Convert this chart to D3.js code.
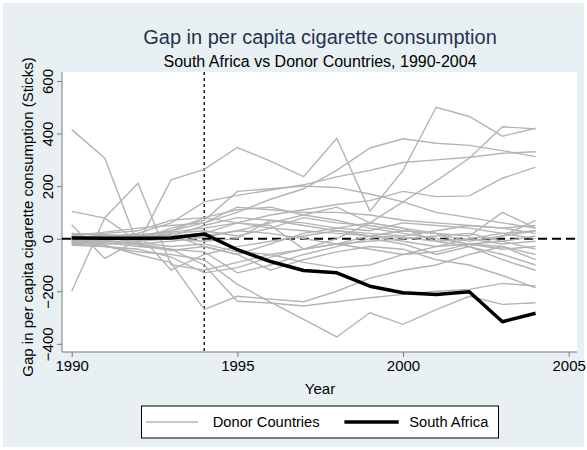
<!DOCTYPE html>
<html>
<head>
<meta charset="utf-8">
<script src="https://cdn.jsdelivr.net/npm/d3@7"></script>
<style>
  body { margin: 0; background: #fff; }
  svg { display: block; font-family: 'Liberation Sans', Arial, sans-serif; }
</style>
</head>
<body>
<div id="chart"></div>
<script>
// years and tick labels
var years = [1990, 1991, 1992, 1993, 1994, 1995, 1996, 1997, 1998, 1999, 2000, 2001, 2002, 2003, 2004];
var xTicks = [1990, 1995, 2000, 2005];
var yTicks = [-400, -200, 0, 200, 400, 600];
var treatYear = 1994;

// gap for the treated unit
var southAfrica = [3, 2, 2, 3, 18, -42, -87, -121, -130, -181, -206, -212, -202, -316, -284];

// placebo gaps, one list per donor country
var donor01 = [415, 306, -25, -45, -30, -60, -20, 20, 40, 60, 40, 20, -10, 10, 30];
var donor02 = [-200, 80, 211, -99, -120, -90, -60, -40, -20, 10, 30, 20, -30, -60, -100];
var donor03 = [104, 78, -10, 30, 80, 110, 120, 90, 70, 40, 20, 0, -20, -10, 10];
var donor04 = [53, -75, -5, 40, 70, 180, 190, 200, 195, 170, 140, 100, 80, 60, 40];
var donor05 = [-15, -25, -61, -91, -269, -219, -230, -240, -200, -150, -120, -100, -60, -30, -80];
var donor06 = [20, 10, -20, 224, 264, 347, 295, 236, 382, 105, 260, 500, 465, 390, 420];
var donor07 = [0, 10, 15, 25, 40, 60, 50, -40, 0, 60, 140, 220, 306, 426, 418];
var donor08 = [-5, -10, 10, 30, 60, 100, 150, 190, 260, 345, 380, 363, 355, 335, 312];
var donor09 = [10, 5, 20, 60, 140, 165, 185, 205, 235, 260, 290, 300, 310, 325, 331];
var donor10 = [-10, 0, 15, 10, 20, 60, 90, 110, 130, 145, 180, 160, 163, 230, 272];
var donor11 = [-20, -30, -50, -60, -80, -174, -241, -307, -374, -282, -326, -270, -219, -250, -244];
var donor12 = [-5, -15, -30, -40, -100, -238, -245, -256, -240, -225, -212, -200, -193, -170, -180];
var donor13 = [5, 10, 0, 20, 30, 10, 40, 80, 60, 50, 30, 20, 10, 100, 40];
var donor14 = [-10, -20, -20, -10, 5, 30, 20, 0, -20, -40, -60, -50, -20, -30, -60];
var donor15 = [0, -5, 10, 15, -30, -60, -120, -80, -50, -30, -40, -80, -100, -140, -187];
var donor16 = [15, 20, 30, 70, 80, 60, 40, 30, 20, 10, 5, -10, 0, 20, 30];
var donor17 = [-20, -10, -15, -30, -20, -50, -60, -90, -110, -100, -60, -30, 0, -20, -10];
var donor18 = [10, 25, 40, 50, 60, 120, 110, 100, 100, 90, 70, 60, 50, 40, 50];
var donor19 = [-25, -30, -40, -70, -130, -110, -70, -40, -20, -10, 0, 10, 20, -10, -40];
var donor20 = [5, 0, -10, 0, 10, 30, 60, 90, 120, 60, 40, -10, -30, 10, 70];
var donor21 = [-5, 5, 20, -120, -60, -30, -10, 10, 30, 20, 10, 30, 50, 40, 20];
var donor22 = [20, 15, 10, 0, -10, 0, 70, 60, 40, 30, 60, 50, 40, 20, 0];
var donor23 = [0, -10, -20, -40, -50, -130, -100, -60, -30, 0, -20, -60, -30, -80, -120];
var donor24 = [-15, 0, 5, 10, 50, 80, 70, 50, 30, 10, -10, -30, -20, -40, -30];

var donors = [donor01, donor02, donor03, donor04, donor05, donor06, donor07, donor08,
              donor09, donor10, donor11, donor12, donor13, donor14, donor15, donor16,
              donor17, donor18, donor19, donor20, donor21, donor22, donor23, donor24];

var W = 587, H = 450;
var plot = {left: 62, right: 577, top: 72, bottom: 352};
var bgColor = '#e9f0f3';
var donorColor = '#b4b4b4';
var axisColor = '#7a7a7a';

var svg = d3.select('#chart').append('svg')
    .attr('width', W)
    .attr('height', H);

// graph region + plot region
svg.append('rect')
    .attr('x', 3).attr('y', 3)
    .attr('width', W - 6).attr('height', H - 6)
    .attr('fill', bgColor);
svg.append('rect')
    .attr('x', plot.left).attr('y', plot.top)
    .attr('width', plot.right - plot.left)
    .attr('height', plot.bottom - plot.top)
    .attr('fill', '#fff');

var xScale = d3.scaleLinear()
    .domain([1990, 2005])
    .range([71.7, 568.7]);
var yScale = d3.scaleLinear()
    .domain([-400, 600])
    .range([343.8, 81]);

// axes
var yaxis = d3.axisLeft(yScale).tickValues(yTicks).tickSize(5).tickSizeOuter(0);
var gy = svg.append('g')
    .attr('transform', 'translate(' + plot.left + ',0)')
    .call(yaxis);
gy.select('.domain').remove();
gy.selectAll('.tick line').attr('stroke', axisColor);
gy.selectAll('.tick text')
    .attr('fill', '#000')
    .style('font-size', '15px')
    .attr('x', 0).attr('y', -9).attr('dy', 0)
    .attr('text-anchor', 'middle')
    .attr('transform', 'rotate(-90)');

var xaxis = d3.axisBottom(xScale).tickValues(xTicks).tickSize(5).tickSizeOuter(0)
    .tickFormat(d3.format('d'));
var gx = svg.append('g')
    .attr('transform', 'translate(0,' + plot.bottom + ')')
    .call(xaxis);
gx.select('.domain').remove();
gx.selectAll('.tick line').attr('stroke', axisColor);
gx.selectAll('.tick text')
    .attr('fill', '#000')
    .style('font-size', '15px')
    .attr('y', 8).attr('dy', '0.75em');

svg.append('line')
    .attr('x1', plot.left).attr('x2', plot.left)
    .attr('y1', plot.top).attr('y2', plot.bottom)
    .attr('stroke', axisColor).attr('stroke-width', 1);
svg.append('line')
    .attr('x1', plot.left).attr('x2', plot.right)
    .attr('y1', plot.bottom).attr('y2', plot.bottom)
    .attr('stroke', axisColor).attr('stroke-width', 1);

// reference lines
svg.append('line')
    .attr('x1', xScale(treatYear)).attr('x2', xScale(treatYear))
    .attr('y1', plot.top).attr('y2', plot.bottom)
    .attr('stroke', '#000').attr('stroke-width', 1.3)
    .attr('stroke-dasharray', '3,3');
svg.append('line')
    .attr('x1', plot.left).attr('x2', plot.right)
    .attr('y1', yScale(0)).attr('y2', yScale(0))
    .attr('stroke', '#000').attr('stroke-width', 2)
    .attr('stroke-dasharray', '9,5');

var line = d3.line()
    .x(function(d, i) { return xScale(years[i]); })
    .y(function(d) { return yScale(d); });

svg.append('g').selectAll('path')
    .data(donors)
  .enter().append('path')
    .attr('d', line)
    .attr('fill', 'none')
    .attr('stroke', donorColor)
    .attr('stroke-width', 1.4);

svg.append('path')
    .datum(southAfrica)
    .attr('d', line)
    .attr('fill', 'none')
    .attr('stroke', '#000')
    .attr('stroke-width', 3.5)
    .attr('stroke-linejoin', 'round');

// titles
svg.append('text')
    .attr('x', 320).attr('y', 44)
    .attr('text-anchor', 'middle')
    .style('font-size', '20px')
    .attr('fill', '#1e3450')
    .text('Gap in per capita cigarette consumption');
svg.append('text')
    .attr('x', 320).attr('y', 67)
    .attr('text-anchor', 'middle')
    .style('font-size', '16px')
    .attr('fill', '#000')
    .text('South Africa vs Donor Countries, 1990-2004');

svg.append('text')
    .attr('transform', 'translate(33,217) rotate(-90)')
    .attr('text-anchor', 'middle')
    .style('font-size', '15px')
    .attr('fill', '#000')
    .text('Gap in per capita cigarette consumption (Sticks)');

svg.append('text')
    .attr('x', 320).attr('y', 394)
    .attr('text-anchor', 'middle')
    .style('font-size', '15px')
    .attr('fill', '#000')
    .text('Year');

// legend
var legend = svg.append('g');
legend.append('rect')
    .attr('x', 141.5).attr('y', 406)
    .attr('width', 357).attr('height', 32)
    .attr('fill', '#fff')
    .attr('stroke', '#000').attr('stroke-width', 1);
var legendItems = [
  {label: 'Donor Countries', color: donorColor, width: 1.4, x0: 146, x1: 198, tx: 212.7},
  {label: 'South Africa', color: '#000', width: 3.5, x0: 344.4, x1: 398.7, tx: 409.2}
];
legendItems.forEach(function(it) {
  legend.append('line')
      .attr('x1', it.x0).attr('x2', it.x1)
      .attr('y1', 422).attr('y2', 422)
      .attr('stroke', it.color).attr('stroke-width', it.width);
  legend.append('text')
      .attr('x', it.tx).attr('y', 427)
      .style('font-size', '14.7px')
      .attr('fill', '#000')
      .text(it.label);
});
</script>
</body>
</html>
